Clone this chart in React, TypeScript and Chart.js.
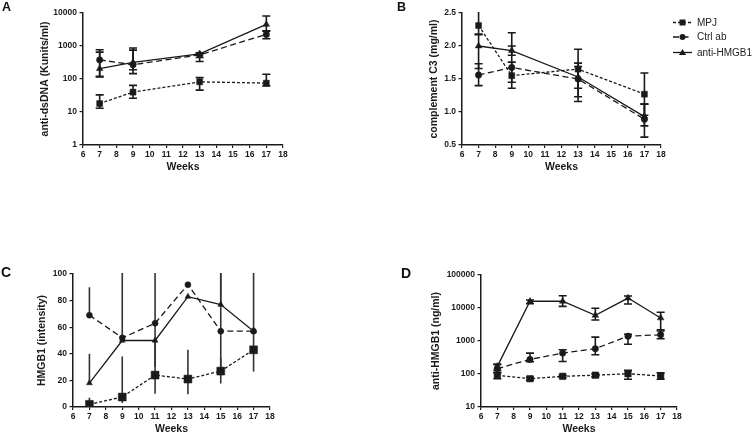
import React, { useEffect, useRef } from "react";
import { Chart, registerables } from "chart.js";
Chart.register(...registerables);

const FONT = "'Liberation Sans', Arial, Helvetica, sans-serif";
const INK = "#1a1a1a";

// ---------- data ----------
const WEEKS_AB = [7, 9, 13, 17];
const WEEKS_CD = [7, 9, 11, 13, 15, 17];
const LABELS = ["MPJ", "Ctrl ab", "anti-HMGB1"];

// Panel A: anti-dsDNA (Kunits/ml), log
const A_TICKS = [1, 10, 100, 1000, 10000];
const A_MPJ = [18, 40, 82, 75];
const A_MPJ_LO = [13, 26, 46, 62];
const A_MPJ_HI = [33, 64, 110, 140];
const A_CTRL = [380, 270, 540, 2250];
const A_CTRL_LO = [115, 145, 450, 1650];
const A_CTRL_HI = [770, 750, 600, 2800];
const A_ANTI = [205, 318, 580, 4500];
const A_ANTI_LO = [120, 190, 340, 2900];
const A_ANTI_HI = [650, 870, 620, 8100];

// Panel B: complement C3 (mg/ml)
const B_TICKS = [0.5, 1.0, 1.5, 2.0, 2.5];
const B_MPJ = [2.31, 1.55, 1.65, 1.27];
const B_MPJ_LO = [2.18, 1.36, 1.36, 0.95];
const B_MPJ_HI = [2.55, 1.755, 1.95, 1.59];
const B_CTRL = [1.56, 1.675, 1.5, 0.89];
const B_CTRL_LO = [1.4, 1.45, 1.23, 0.62];
const B_CTRL_HI = [1.73, 2.2, 1.74, 1.12];
const B_ANTI = [2.0, 1.93, 1.53, 0.93];
const B_ANTI_LO = [1.66, 1.86, 1.16, 0.79];
const B_ANTI_HI = [2.17, 2.0, 1.69, 1.12];

// Panel C: HMGB1 (intensity)
const C_TICKS = [0, 20, 40, 60, 80, 100];
const C_MPJ = [2, 7.5, 24, 21, 27, 43];
const C_MPJ_LO = [2, 3, 10, 9.6, 17.7, 26.6];
const C_MPJ_HI = [7, 38, 40, 43, 37, 60];
const C_CTRL = [69, 52, 63, 92, 57, 57];
const C_CTRL_LO = [69, 52, 40, 92, 30, 57];
const C_CTRL_HI = [90, 120, 120, 92, 120, 120];
const C_ANTI = [18, 50, 50, 83, 77, 57];
const C_ANTI_LO = [18, 50, 30, 83, 77, 57];
const C_ANTI_HI = [40, 50, 50, 83, 120, 57];

// Panel D: anti-HMGB1 (ng/ml), log
const D_TICKS = [10, 100, 1000, 10000, 100000];
const D_MPJ = [91, 72, 85, 92, 102, 87];
const D_MPJ_LO = [72, 65, 78, 82, 69, 69];
const D_MPJ_HI = [110, 80, 92, 102, 129, 108];
const D_CTRL = [145, 277, 430, 585, 1400, 1540];
const D_CTRL_LO = [110, 235, 240, 385, 800, 1170];
const D_CTRL_HI = [190, 430, 545, 1310, 1600, 2200];
const D_ANTI = [170, 16000, 16000, 6000, 20000, 5000];
const D_ANTI_LO = [130, 13500, 11200, 4350, 13200, 2000];
const D_ANTI_HI = [200, 17500, 23600, 9800, 23000, 7400];

// ---------- styles ----------
const DASH: Record<string, number[]> = { mpj: [3, 2], ctrl: [6, 3.5], anti: [] };
const PSTYLE: Record<string, string> = { mpj: "rect", ctrl: "circle", anti: "triangle" };

type Sizes = { mpj: number; ctrl: number; anti: number };

function makeDs(weeks: number[], key: string, label: string, vals: number[], lo: number[], hi: number[], sizes: Sizes) {
  return {
    label,
    data: weeks.map((w, i) => ({ x: w, y: vals[i] })),
    errLo: lo,
    errHi: hi,
    borderColor: INK,
    backgroundColor: INK,
    borderWidth: 1.3,
    borderDash: DASH[key],
    pointStyle: PSTYLE[key],
    pointRadius: (sizes as any)[key],
    pointBackgroundColor: INK,
    pointBorderColor: INK,
    pointBorderWidth: 0.5,
    tension: 0,
  };
}

const errorBarsPlugin = {
  id: "errorBars",
  beforeDatasetsDraw(chart: any, _args: any, opts: any) {
    const { ctx, chartArea } = chart;
    const xs = chart.scales.x;
    const ys = chart.scales.y;
    ctx.save();
    ctx.beginPath();
    ctx.rect(chartArea.left - 6, chartArea.top - 1, chartArea.width + 12, chartArea.height + 2);
    ctx.clip();
    ctx.strokeStyle = opts.color || INK;
    ctx.lineWidth = opts.width || 1.6;
    ctx.setLineDash([]);
    const cap = opts.cap ?? 4;
    chart.data.datasets.forEach((ds: any) => {
      if (!ds.errLo) return;
      ds.data.forEach((p: any, i: number) => {
        const lo = ds.errLo[i];
        const hi = ds.errHi[i];
        if (lo == null || hi == null) return;
        const x = xs.getPixelForValue(p.x);
        const yl = ys.getPixelForValue(lo);
        const yh = ys.getPixelForValue(hi);
        ctx.beginPath();
        ctx.moveTo(x, yl);
        ctx.lineTo(x, yh);
        if (cap > 0) {
          if (hi <= ys.max) {
            ctx.moveTo(x - cap, yh);
            ctx.lineTo(x + cap, yh);
          }
          if (lo >= ys.min) {
            ctx.moveTo(x - cap, yl);
            ctx.lineTo(x + cap, yl);
          }
        }
        ctx.stroke();
      });
    });
    ctx.restore();
  },
};

const legendPlugin = {
  id: "customLegend",
  afterDraw(chart: any, _args: any, opts: any) {
    if (!opts || !opts.show) return;
    const { ctx } = chart;
    const rows = [
      { key: "mpj", y: 22.5 },
      { key: "ctrl", y: 37 },
      { key: "anti", y: 52.5 },
    ];
    ctx.save();
    rows.forEach((r, i) => {
      const x0 = opts.x;
      ctx.strokeStyle = INK;
      ctx.fillStyle = INK;
      ctx.lineWidth = 1.3;
      ctx.setLineDash(DASH[r.key]);
      ctx.beginPath();
      ctx.moveTo(x0, r.y);
      ctx.lineTo(x0 + 19, r.y);
      ctx.stroke();
      ctx.setLineDash([]);
      const cx = x0 + 9.5;
      ctx.beginPath();
      if (r.key === "mpj") {
        ctx.rect(cx - 3, r.y - 3, 6, 6);
      } else if (r.key === "ctrl") {
        ctx.arc(cx, r.y, 3, 0, Math.PI * 2);
      } else {
        ctx.moveTo(cx, r.y - 3.5);
        ctx.lineTo(cx + 3.5, r.y + 2.5);
        ctx.lineTo(cx - 3.5, r.y + 2.5);
        ctx.closePath();
      }
      ctx.fill();
      ctx.font = `10px ${FONT}`;
      ctx.textBaseline = "middle";
      ctx.textAlign = "left";
      ctx.fillStyle = "#222";
      ctx.fillText(LABELS[i], x0 + 24, r.y + 0.5);
    });
    ctx.restore();
  },
};

type PanelSpec = {
  weeks: number[];
  series: { key: string; vals: number[]; lo: number[]; hi: number[] }[];
  sizes: Sizes;
  yType: "linear" | "logarithmic";
  yMin: number;
  yMax: number;
  yTicks: number[];
  yFmt: (v: number) => string;
  yTitle: string;
  yTitlePad: number;
  yWidth: number;
  xHeight: number;
  xTitlePad: number;
  padding: { left: number; right: number; top: number; bottom: number };
  cap: number;
  errColor: string;
  legendX?: number;
};

function buildConfig(p: PanelSpec): any {
  const tickFont = { family: FONT, size: 8.5, weight: "bold" as const };
  const titleFont = { family: FONT, size: 10.5, weight: "bold" as const, lineHeight: 1 };
  const keys = ["mpj", "ctrl", "anti"];
  return {
    type: "line",
    data: {
      datasets: p.series.map((s, i) => makeDs(p.weeks, s.key, LABELS[keys.indexOf(s.key)], s.vals, s.lo, s.hi, p.sizes)),
    },
    options: {
      responsive: false,
      animation: false,
      devicePixelRatio: 1,
      events: [],
      layout: { padding: p.padding },
      plugins: {
        legend: { display: false },
        tooltip: { enabled: false },
        errorBars: { cap: p.cap, color: p.errColor, width: 1.6 },
        customLegend: { show: p.legendX != null, x: p.legendX },
      },
      scales: {
        x: {
          type: "linear",
          min: 6,
          max: 18,
          ticks: { stepSize: 1, font: tickFont, color: INK, padding: 1.5, maxRotation: 0, autoSkip: false },
          grid: { display: true, drawOnChartArea: false, tickLength: 3, color: INK, lineWidth: 1.2 },
          border: { color: INK, width: 1.5 },
          title: { display: true, text: "Weeks", font: titleFont, color: INK, padding: { top: 0, bottom: p.xTitlePad } },
          afterFit: (s: any) => {
            s.height = p.xHeight;
          },
        },
        y: {
          type: p.yType,
          min: p.yMin,
          max: p.yMax,
          afterBuildTicks: (s: any) => {
            s.ticks = p.yTicks.map((v) => ({ value: v }));
          },
          ticks: { font: tickFont, color: INK, padding: 2.5, callback: (v: any) => p.yFmt(Number(v)) },
          grid: { display: true, drawOnChartArea: false, tickLength: 3.5, color: INK, lineWidth: 1.2 },
          border: { color: INK, width: 1.5 },
          title: { display: true, text: p.yTitle, font: titleFont, color: INK, padding: { top: p.yTitlePad, bottom: 0 } },
          afterFit: (s: any) => {
            s.width = p.yWidth;
          },
        },
      },
    },
    plugins: [errorBarsPlugin, legendPlugin],
  };
}

function Panel({ left, top, width, height, spec }: { left: number; top: number; width: number; height: number; spec: PanelSpec }) {
  const ref = useRef<HTMLCanvasElement | null>(null);
  useEffect(() => {
    if (!ref.current) return;
    const chart = new Chart(ref.current, buildConfig(spec));
    return () => chart.destroy();
  }, []);
  return (
    <canvas
      ref={ref}
      width={width}
      height={height}
      style={{ position: "absolute", left, top, width, height }}
    />
  );
}

const plain = (v: number) => String(v);
const one = (v: number) => v.toFixed(1);

const SPEC_A: PanelSpec = {
  weeks: WEEKS_AB,
  series: [
    { key: "mpj", vals: A_MPJ, lo: A_MPJ_LO, hi: A_MPJ_HI },
    { key: "ctrl", vals: A_CTRL, lo: A_CTRL_LO, hi: A_CTRL_HI },
    { key: "anti", vals: A_ANTI, lo: A_ANTI_LO, hi: A_ANTI_HI },
  ],
  sizes: { mpj: 4.2, ctrl: 3.2, anti: 3.8 },
  yType: "logarithmic",
  yMin: 1,
  yMax: 10000,
  yTicks: A_TICKS,
  yFmt: plain,
  yTitle: "anti-dsDNA (Kunits/ml)",
  yTitlePad: 39.5,
  yWidth: 83,
  xHeight: 30,
  xTitlePad: 3,
  padding: { left: 0, right: 93, top: 13, bottom: 42 },
  cap: 4,
  errColor: INK,
};

const SPEC_B: PanelSpec = {
  weeks: WEEKS_AB,
  series: [
    { key: "mpj", vals: B_MPJ, lo: B_MPJ_LO, hi: B_MPJ_HI },
    { key: "ctrl", vals: B_CTRL, lo: B_CTRL_LO, hi: B_CTRL_HI },
    { key: "anti", vals: B_ANTI, lo: B_ANTI_LO, hi: B_ANTI_HI },
  ],
  sizes: { mpj: 4.2, ctrl: 3.2, anti: 3.8 },
  yType: "linear",
  yMin: 0.5,
  yMax: 2.5,
  yTicks: B_TICKS,
  yFmt: one,
  yTitle: "complement C3 (mg/ml)",
  yTitlePad: 52.5,
  yWidth: 86,
  xHeight: 30,
  xTitlePad: 3,
  padding: { left: 0, right: 91, top: 13, bottom: 42 },
  cap: 4,
  errColor: INK,
  legendX: 297,
};

const SPEC_C: PanelSpec = {
  weeks: WEEKS_CD,
  series: [
    { key: "mpj", vals: C_MPJ, lo: C_MPJ_LO, hi: C_MPJ_HI },
    { key: "ctrl", vals: C_CTRL, lo: C_CTRL_LO, hi: C_CTRL_HI },
    { key: "anti", vals: C_ANTI, lo: C_ANTI_LO, hi: C_ANTI_HI },
  ],
  sizes: { mpj: 5.6, ctrl: 3, anti: 3.4 },
  yType: "linear",
  yMin: 0,
  yMax: 100,
  yTicks: C_TICKS,
  yFmt: plain,
  yTitle: "HMGB1 (intensity)",
  yTitlePad: 37,
  yWidth: 73,
  xHeight: 27,
  xTitlePad: 0,
  padding: { left: 0, right: 106, top: 74, bottom: 0 },
  cap: 0,
  errColor: "#333",
};

const SPEC_D: PanelSpec = {
  weeks: WEEKS_CD,
  series: [
    { key: "mpj", vals: D_MPJ, lo: D_MPJ_LO, hi: D_MPJ_HI },
    { key: "ctrl", vals: D_CTRL, lo: D_CTRL_LO, hi: D_CTRL_HI },
    { key: "anti", vals: D_ANTI, lo: D_ANTI_LO, hi: D_ANTI_HI },
  ],
  sizes: { mpj: 4.6, ctrl: 3.2, anti: 3.8 },
  yType: "logarithmic",
  yMin: 10,
  yMax: 100000,
  yTicks: D_TICKS,
  yFmt: plain,
  yTitle: "anti-HMGB1 (ng/ml)",
  yTitlePad: 54.5,
  yWidth: 105,
  xHeight: 27,
  xTitlePad: 0,
  padding: { left: 0, right: 75, top: 75, bottom: 0 },
  cap: 4,
  errColor: INK,
};

const letterStyle = (left: number, top: number, size: number): React.CSSProperties => ({
  position: "absolute",
  left,
  top,
  fontFamily: FONT,
  fontWeight: "bold",
  fontSize: size,
  lineHeight: `${size}px`,
  color: "#111",
});

export default function App() {
  return (
    <div style={{ position: "absolute", left: 0, top: 0, width: 752, height: 434, background: "#fff", overflow: "hidden" }}>
      <Panel left={0} top={0} width={376} height={217} spec={SPEC_A} />
      <Panel left={376} top={0} width={376} height={217} spec={SPEC_B} />
      <Panel left={0} top={200} width={376} height={234} spec={SPEC_C} />
      <Panel left={376} top={200} width={376} height={234} spec={SPEC_D} />
      <div style={letterStyle(2, 1, 12.5)}>A</div>
      <div style={letterStyle(397, 1, 12.5)}>B</div>
      <div style={letterStyle(1, 265, 14)}>C</div>
      <div style={letterStyle(401, 266, 14)}>D</div>
    </div>
  );
}
